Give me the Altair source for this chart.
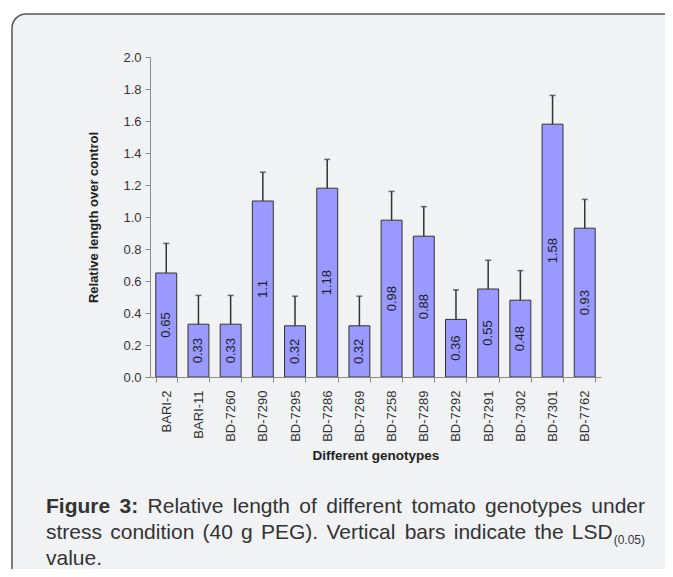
import altair as alt
import pandas as pd

# ---------------- data ----------------
genotypes = ["BARI-2", "BARI-11", "BD-7260", "BD-7290", "BD-7295", "BD-7286", "BD-7269",
             "BD-7258", "BD-7289", "BD-7292", "BD-7291", "BD-7302", "BD-7301", "BD-7762"]
values = [0.65, 0.33, 0.33, 1.1, 0.32, 1.18, 0.32, 0.98, 0.88, 0.36, 0.55, 0.48, 1.58, 0.93]
value_labels = ["0.65", "0.33", "0.33", "1.1", "0.32", "1.18", "0.32", "0.98", "0.88",
                "0.36", "0.55", "0.48", "1.58", "0.93"]
lsd = [0.185, 0.18, 0.18, 0.18, 0.185, 0.18, 0.185, 0.18, 0.185, 0.185, 0.18, 0.185, 0.18, 0.18]
y_ticks = [0.0, 0.2, 0.4, 0.6, 0.8, 1.0, 1.2, 1.4, 1.6, 1.8, 2.0]

df = pd.DataFrame({"genotype": genotypes, "value": values, "label": value_labels, "lsd": lsd})
df["top"] = df["value"] + df["lsd"]
df["mid"] = df["value"] / 2

FONT = "Liberation Sans, Arial, sans-serif"
W, H = 451, 320
OX, OY = 150, 57  # plot origin on the page

x_axis = alt.Axis(title="Different genotypes", labelAngle=-90, tickBand="extent", zindex=1,
                  tickSize=5, labelPadding=8, labelFontSize=13, labelColor="#333",
                  labelFont=FONT, domainColor="#8a8a8a", tickColor="#8a8a8a",
                  titleFont=FONT, titleFontSize=13.5, titleFontWeight="bold", titleColor="#222",
                  titleX=W / 2, titleY=78, titleBaseline="middle", titleAlign="center")
y_axis = alt.Axis(values=y_ticks, format=".1f", grid=False, tickSize=5, labelPadding=4,
                  labelOverlap=False, zindex=1, labelFontSize=13, labelColor="#333",
                  labelFont=FONT, domainColor="#8a8a8a", tickColor="#8a8a8a",
                  title="Relative length over control", titleFont=FONT,
                  titleFontSize=13, titleFontWeight="bold", titleColor="#222",
                  titleAngle=-90, titleX=-57, titleY=H / 2,
                  titleBaseline="middle", titleAlign="center")
x_scale = alt.Scale(paddingInner=0.35, paddingOuter=0.18)
y_scale = alt.Scale(domain=[0, 2], nice=False)


def X():
    return alt.X("genotype:N", sort=genotypes, scale=x_scale, axis=x_axis)


def Y(field):
    return alt.Y(field + ":Q", scale=y_scale, axis=y_axis)


base = alt.Chart(df)

bars = base.mark_bar(fill="#9999ff", stroke="#333333", strokeWidth=1).encode(x=X(), y=Y("value"))

errs = base.mark_rule(color="#333333", strokeWidth=1.5).encode(x=X(), y=Y("value"), y2="top:Q")

caps = base.mark_tick(color="#333333", thickness=1.5, size=6, orient="horizontal").encode(
    x=X(), y=Y("top"))

texts = base.mark_text(
    angle=270, fontSize=13, color="#222", font=FONT, align="center", baseline="middle"
).encode(x=X(), y=Y("mid"), text="label:N")

one = pd.DataFrame({"a": [0]})
frame = alt.Chart(one).mark_rect(
    fill="#f1f2f4", stroke="#555555", strokeWidth=1.5, cornerRadius=14
).encode(x=alt.value(12 - OX), x2=alt.value(680 - OX), y=alt.value(14 - OY), y2=alt.value(585 - OY))

# ---------------- caption (justified by hand) ----------------
AW = {" ": 278, "(": 333, ")": 333, ".": 278, ":": 278, "0": 556, "3": 556, "4": 556, "5": 556,
      "a": 556, "b": 556, "c": 500, "d": 556, "e": 556, "f": 278, "g": 556, "h": 556, "i": 222,
      "l": 222, "m": 833, "n": 556, "o": 556, "p": 556, "r": 333, "s": 500, "t": 278, "u": 556,
      "v": 500, "y": 500, "E": 667, "G": 778, "P": 667, "V": 667, "R": 722, "L": 556, "S": 667,
      "D": 722, "F": 611}
AWB = {"F": 611, "i": 278, "g": 611, "u": 611, "r": 389, "e": 556, "3": 556, ":": 333, " ": 278}


def tw(s, size, bold=False):
    t = AWB if bold else AW
    return sum(t.get(c, 556) for c in s) * size / 1000.0


CAP = 21
SUB = 12
LEFT, RIGHT = 46, 645
line1 = [("Figure", True), ("3:", True), ("Relative", False), ("length", False), ("of", False),
         ("different", False), ("tomato", False), ("genotypes", False), ("under", False)]
line2 = ["stress", "condition", "(40", "g", "PEG).", "Vertical", "bars", "indicate", "the", "LSD"]
sub_text = "(0.05)"

cap_layers = []


def add_text(txt, x, y, size=CAP, bold=False):
    cap_layers.append(
        alt.Chart(one).mark_text(
            text=txt, font=FONT, fontSize=size, fontWeight="bold" if bold else "normal",
            color="#333333", align="left", baseline="alphabetic"
        ).encode(x=alt.value(x - OX), y=alt.value(y - OY))
    )


# line 1
widths = [tw(w, CAP, b) for w, b in line1]
gap = (RIGHT - LEFT - sum(widths)) / (len(line1) - 1)
xx = LEFT
for (w, b), wd in zip(line1, widths):
    add_text(w, xx, 513, bold=b)
    xx += wd + gap

# line 2
widths2 = [tw(w, CAP) for w in line2]
widths2[-1] += tw(sub_text, SUB) + 1
gap2 = (RIGHT - LEFT - sum(widths2)) / (len(line2) - 1)
xx = LEFT
for w, wd in zip(line2, widths2):
    add_text(w, xx, 539)
    if w == "LSD":
        add_text(sub_text, xx + tw("LSD", CAP) + 1, 544, size=SUB)
    xx += wd + gap2

# line 3
add_text("value.", LEFT, 565)

chart = alt.layer(frame, bars, errs, caps, texts, *cap_layers).properties(
    width=W, height=H,
    autosize=alt.AutoSizeParams(type="none"),
    padding={"left": OX - 8, "top": OY - 8, "right": 657 - (OX - 8) - W, "bottom": 561 - (OY - 8) - H},
    background="white",
).configure_view(stroke=None)

chart.save("out.html", embed_options={"renderer": "svg", "actions": False})
